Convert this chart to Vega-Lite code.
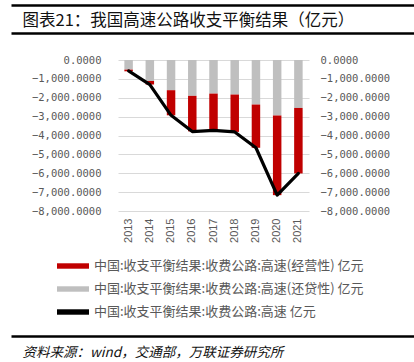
{
  "$schema": "https://vega.github.io/schema/vega-lite/v6.json",
  "width": 191,
  "height": 151,
  "autosize": "none",
  "padding": {"left": 118, "top": 60, "right": 105, "bottom": 151},
  "background": "white",
  "config": {"view": {"stroke": null}},
  "datasets": {
    "main": [
      {"year": "2013", "series": "中国:收支平衡结果:收费公路:高速(还贷性) 亿元", "value": -510},
      {"year": "2014", "series": "中国:收支平衡结果:收费公路:高速(还贷性) 亿元", "value": -1110},
      {"year": "2015", "series": "中国:收支平衡结果:收费公路:高速(还贷性) 亿元", "value": -1600},
      {"year": "2016", "series": "中国:收支平衡结果:收费公路:高速(还贷性) 亿元", "value": -1900},
      {"year": "2017", "series": "中国:收支平衡结果:收费公路:高速(还贷性) 亿元", "value": -1780},
      {"year": "2018", "series": "中国:收支平衡结果:收费公路:高速(还贷性) 亿元", "value": -1830},
      {"year": "2019", "series": "中国:收支平衡结果:收费公路:高速(还贷性) 亿元", "value": -2360},
      {"year": "2020", "series": "中国:收支平衡结果:收费公路:高速(还贷性) 亿元", "value": -2940},
      {"year": "2021", "series": "中国:收支平衡结果:收费公路:高速(还贷性) 亿元", "value": -2540},
      {"year": "2013", "series": "中国:收支平衡结果:收费公路:高速(经营性) 亿元", "value": -90},
      {"year": "2014", "series": "中国:收支平衡结果:收费公路:高速(经营性) 亿元", "value": -190},
      {"year": "2015", "series": "中国:收支平衡结果:收费公路:高速(经营性) 亿元", "value": -1330},
      {"year": "2016", "series": "中国:收支平衡结果:收费公路:高速(经营性) 亿元", "value": -1880},
      {"year": "2017", "series": "中国:收支平衡结果:收费公路:高速(经营性) 亿元", "value": -1940},
      {"year": "2018", "series": "中国:收支平衡结果:收费公路:高速(经营性) 亿元", "value": -1980},
      {"year": "2019", "series": "中国:收支平衡结果:收费公路:高速(经营性) 亿元", "value": -2290},
      {"year": "2020", "series": "中国:收支平衡结果:收费公路:高速(经营性) 亿元", "value": -4220},
      {"year": "2021", "series": "中国:收支平衡结果:收费公路:高速(经营性) 亿元", "value": -3470},
      {"year": "2013", "series": "中国:收支平衡结果:收费公路:高速 亿元", "value": -580},
      {"year": "2014", "series": "中国:收支平衡结果:收费公路:高速 亿元", "value": -1300},
      {"year": "2015", "series": "中国:收支平衡结果:收费公路:高速 亿元", "value": -2930},
      {"year": "2016", "series": "中国:收支平衡结果:收费公路:高速 亿元", "value": -3790},
      {"year": "2017", "series": "中国:收支平衡结果:收费公路:高速 亿元", "value": -3730},
      {"year": "2018", "series": "中国:收支平衡结果:收费公路:高速 亿元", "value": -3810},
      {"year": "2019", "series": "中国:收支平衡结果:收费公路:高速 亿元", "value": -4650},
      {"year": "2020", "series": "中国:收支平衡结果:收费公路:高速 亿元", "value": -7160},
      {"year": "2021", "series": "中国:收支平衡结果:收费公路:高速 亿元", "value": -6010}
    ]
  },
  "layer": [
    {
      "data": {"name": "main"},
      "transform": [{"filter": "datum.series !== '中国:收支平衡结果:收费公路:高速 亿元'"}],
      "mark": {"type": "bar"},
      "encoding": {
        "x": {
          "field": "year", "type": "ordinal",
          "scale": {"paddingInner": 0.6, "paddingOuter": 0.3},
          "axis": {"title": null, "orient": "bottom", "labelAngle": -90, "labelFont": "Liberation Sans", "labelFontSize": 11, "labelColor": "#595959", "ticks": false, "domain": false, "labelPadding": 7, "grid": false}
        },
        "y": {
          "field": "value", "type": "quantitative", "stack": "zero",
          "scale": {"domain": [-8000, 0], "nice": false},
          "axis": {"title": null, "orient": "left", "values": [0, -1000, -2000, -3000, -4000, -5000, -6000, -7000, -8000], "format": ",.4f", "labelFont": "DejaVu Sans Mono", "labelFontSize": 10.5, "labelColor": "#595959", "ticks": false, "domain": false, "grid": true, "gridColor": "#d9d9d9", "gridWidth": 1, "labelPadding": 17}
        },
        "color": {
          "field": "series", "type": "nominal",
          "scale": {
            "domain": ["中国:收支平衡结果:收费公路:高速(经营性) 亿元", "中国:收支平衡结果:收费公路:高速(还贷性) 亿元", "中国:收支平衡结果:收费公路:高速 亿元"],
            "range": ["#c00000", "#bfbfbf", "#000000"]
          },
          "legend": {"title": null, "orient": "none", "legendX": -61, "legendY": 190, "direction": "vertical", "symbolType": "M-1,-0.17H1V0.17H-1Z", "symbolSize": 1024, "symbolStrokeWidth": 0, "labelFont": "Noto Sans CJK SC", "labelFontSize": 13, "labelColor": "#595959", "labelLimit": 400, "labelOffset": 5, "rowPadding": -3}
        },
        "order": {"field": "series", "sort": "descending"}
      }
    },
    {
      "data": {"name": "main"},
      "transform": [{"filter": "datum.series === '中国:收支平衡结果:收费公路:高速 亿元'"}],
      "mark": {"type": "line", "color": "#000000", "strokeWidth": 3.2, "strokeJoin": "round", "strokeCap": "round"},
      "encoding": {
        "x": {"field": "year", "type": "ordinal", "scale": {"paddingInner": 0.6, "paddingOuter": 0.3}, "axis": null},
        "y": {
          "field": "value", "type": "quantitative",
          "scale": {"domain": [-8000, 0], "nice": false},
          "axis": {"title": null, "orient": "right", "values": [0, -1000, -2000, -3000, -4000, -5000, -6000, -7000, -8000], "format": ",.4f", "labelFont": "DejaVu Sans Mono", "labelFontSize": 10.5, "labelColor": "#595959", "ticks": false, "domain": false, "grid": false, "labelPadding": 11}
        }
      }
    },
    {
      "data": {"name": "main"},
      "transform": [{"filter": "datum.year === '2013'"}],
      "mark": {"type": "rule", "opacity": 0},
      "encoding": {
        "x": {"field": "value", "type": "quantitative", "scale": {"domain": [0, 1], "range": [-107, 296], "nice": false, "zero": false},
          "axis": {"orient": "bottom", "offset": -206, "title": null, "labels": false, "ticks": false, "grid": false, "domain": true, "domainColor": "#000000", "domainWidth": 2.5}}
      }
    },
    {
      "data": {"name": "main"},
      "transform": [{"filter": "datum.year === '2013'"}],
      "mark": {"type": "rule", "opacity": 0},
      "encoding": {
        "x": {"field": "value", "type": "quantitative", "scale": {"domain": [0, 1], "range": [-107, 296], "nice": false, "zero": false},
          "axis": {"orient": "bottom", "offset": -178, "title": "图表21：我国高速公路收支平衡结果（亿元）", "titleFont": "Noto Sans CJK SC", "titleFontSize": 16.5, "titleFontWeight": "normal", "titleColor": "#111111", "titleAnchor": "start", "titleAlign": "left", "titleBaseline": "alphabetic", "titleX": -96, "titleY": -8, "labels": false, "ticks": false, "grid": false, "domain": true, "domainColor": "#000000", "domainWidth": 2.5}}
      }
    },
    {
      "data": {"name": "main"},
      "transform": [{"filter": "datum.year === '2013'"}],
      "mark": {"type": "rule", "opacity": 0},
      "encoding": {
        "x": {"field": "value", "type": "quantitative", "scale": {"domain": [0, 1], "range": [-107, 296], "nice": false, "zero": false},
          "axis": {"orient": "bottom", "offset": 125, "title": "资料来源：wind，交通部，万联证券研究所", "titleFont": "Noto Sans CJK SC", "titleFontSize": 13.5, "titleFontWeight": "normal", "titleFontStyle": "italic", "titleColor": "#111111", "titleAnchor": "start", "titleAlign": "left", "titleBaseline": "alphabetic", "titleX": -96, "titleY": 20, "labels": false, "ticks": false, "grid": false, "domain": true, "domainColor": "#000000", "domainWidth": 2.5}}
      }
    }
  ],
  "resolve": {"scale": {"x": "independent", "y": "independent"}}
}
